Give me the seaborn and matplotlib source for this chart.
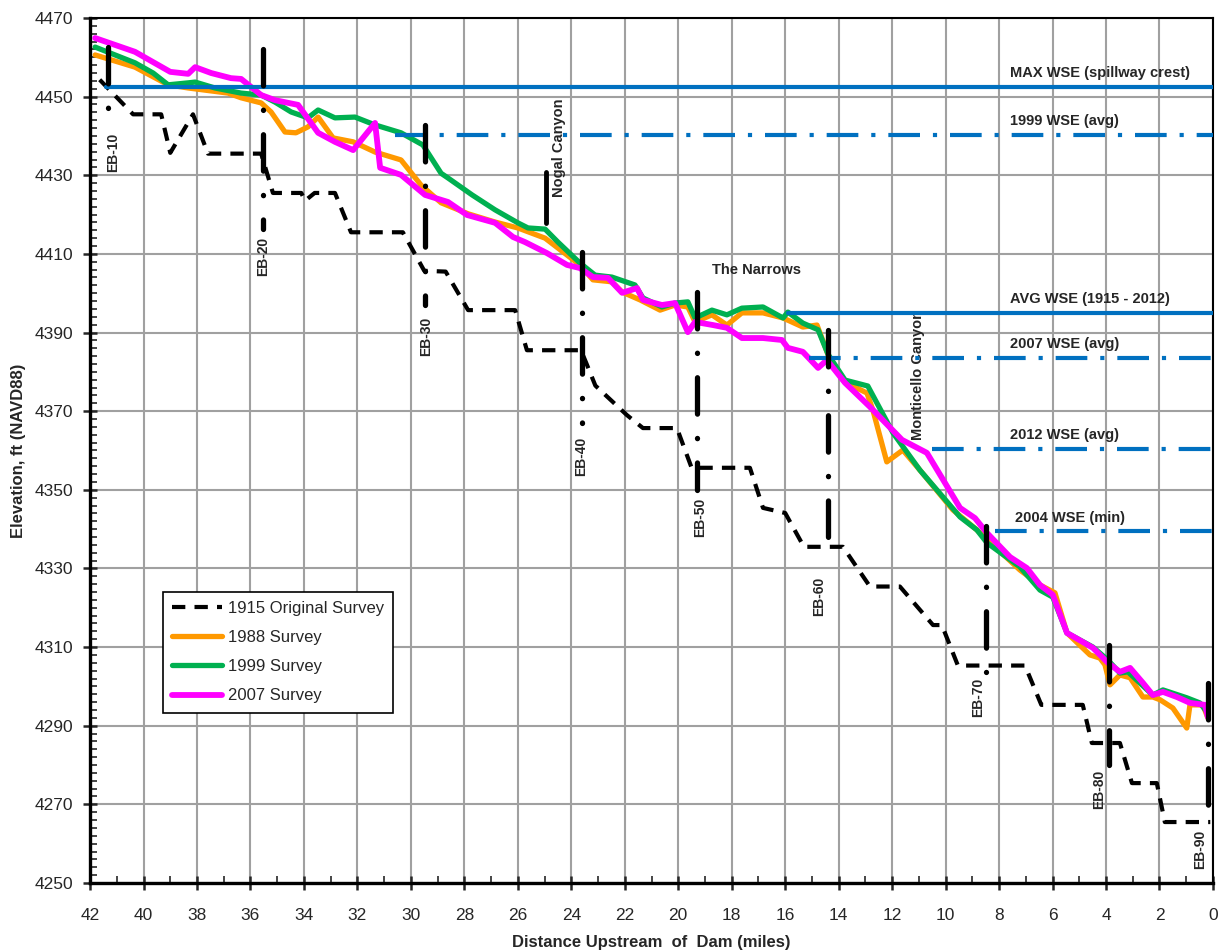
import matplotlib
matplotlib.use("Agg")
import matplotlib.pyplot as plt
from matplotlib.ticker import MultipleLocator
import seaborn as sns
import pandas as pd

# Survey profiles: distance upstream of dam (miles) and elevation (ft NAVD88)
x1915 = [41.64, 40.39, 39.34, 39.0, 38.15, 37.59, 35.6, 35.16, 34.1, 33.96, 33.6, 32.84, 32.24,
         30.3, 29.5, 28.7, 27.86, 26.1, 25.66, 23.64, 23.45, 23.1, 21.92, 21.32, 20.05, 19.5,
         17.32, 16.83, 16.0, 15.3, 13.84, 12.83, 11.71, 10.47, 10.14, 9.54, 7.03, 6.42, 4.87,
         4.53, 3.48, 3.03, 2.10, 1.8, 0.1]
y1915 = [4454.3, 4445.5, 4445.5, 4435.7, 4445.5, 4435.5, 4435.5, 4425.5, 4425.5, 4423.5, 4425.5,
         4425.5, 4415.5, 4415.5, 4405.7, 4405.5, 4395.7, 4395.7, 4385.5, 4385.5, 4382.4, 4376.5,
         4369.0, 4365.7, 4365.7, 4355.6, 4355.6, 4345.4, 4344.1, 4335.5, 4335.5, 4325.4, 4325.4,
         4315.6, 4315.6, 4305.3, 4305.3, 4295.3, 4295.3, 4285.6, 4285.6, 4275.4, 4275.4, 4265.5,
         4265.5]

x1988 = [41.81, 40.32, 39.08, 38.33, 36.84, 36.35, 35.6, 35.23, 34.71, 34.3, 33.85, 33.47, 32.91,
         32.16, 31.34, 30.37, 29.62, 28.87, 27.86, 26.85, 26.0, 24.98, 23.68, 23.19, 22.48, 22.1,
         21.43, 20.68, 20.12, 19.64, 19.37, 18.74, 18.18, 17.62, 16.83, 16.08, 15.34, 14.81, 14.5,
         14.3, 13.76, 12.94, 12.72, 12.2, 11.6, 10.96, 9.73, 8.83, 7.22, 6.47, 5.91, 5.46, 4.6,
         4.23, 4.04, 3.85, 3.48, 3.1, 2.62, 2.25, 1.98, 1.5, 0.98, 0.86, 0.38, 0.19]
y1988 = [4460.6, 4457.5, 4453.0, 4452.2, 4450.9, 4449.7, 4448.4, 4446.1, 4441.0, 4440.8, 4442.3,
         4444.8, 4439.5, 4438.5, 4435.9, 4433.9, 4427.5, 4423.0, 4420.2, 4418.1, 4416.6, 4414.0,
         4407.2, 4403.4, 4402.9, 4400.3, 4398.3, 4395.7, 4397.0, 4396.5, 4392.7, 4394.5, 4391.9,
         4395.0, 4395.0, 4393.7, 4391.4, 4391.9, 4386.3, 4382.5, 4377.4, 4374.6, 4370.3, 4357.1,
         4360.1, 4355.0, 4344.9, 4339.8, 4329.6, 4325.8, 4323.8, 4313.6, 4308.0, 4307.2, 4305.5,
         4300.4, 4302.9, 4302.2, 4297.3, 4297.3, 4296.6, 4294.5, 4289.4, 4295.3, 4295.3, 4292.0]

x1999 = [41.81, 40.32, 39.64, 39.08, 38.33, 38.07, 37.33, 36.35, 35.6, 35.08, 34.48, 33.85, 33.47,
         32.84, 32.09, 31.34, 30.37, 29.55, 28.87, 28.61, 27.71, 26.85, 26.0, 25.62, 24.98, 24.5,
         23.68, 23.11, 22.48, 21.62, 21.32, 20.61, 20.12, 19.64, 19.37, 18.74, 18.18, 17.62, 16.83,
         16.08, 15.9, 15.34, 14.77, 14.4, 13.76, 12.91, 11.97, 10.96, 9.46, 8.83, 8.45, 7.22, 6.47,
         5.99, 5.46, 4.49, 3.93, 3.48, 3.18, 2.25, 1.87, 0.98, 0.49, 0.19]
y1999 = [4462.6, 4458.6, 4456.0, 4453.0, 4453.5, 4453.7, 4452.2, 4450.9, 4450.4, 4448.6, 4446.1,
         4444.6, 4446.6, 4444.6, 4444.8, 4442.8, 4440.8, 4437.7, 4430.5, 4429.3, 4425.0, 4421.2,
         4417.9, 4416.6, 4416.3, 4413.0, 4407.7, 4404.6, 4404.1, 4402.1, 4398.8, 4396.5, 4397.5,
         4397.8, 4393.7, 4395.7, 4394.5, 4396.2, 4396.5, 4393.7, 4395.2, 4392.4, 4390.7, 4384.5,
         4377.9, 4376.4, 4364.5, 4355.0, 4343.1, 4339.8, 4336.5, 4330.4, 4324.5, 4322.7, 4313.6,
         4310.0, 4306.7, 4303.4, 4303.7, 4297.8, 4299.1, 4297.1, 4295.8, 4293.2]

x2007 = [41.81, 40.32, 39.0, 38.33, 38.07, 37.47, 36.73, 36.35, 35.6, 35.08, 34.22, 33.47, 32.84,
         32.16, 31.34, 31.15, 30.37, 29.47, 28.61, 27.9, 26.85, 26.18, 25.73, 24.91, 24.16, 23.68,
         23.19, 22.63, 22.1, 21.54, 21.32, 20.61, 20.12, 19.64, 19.37, 18.7, 18.18, 17.62, 16.83,
         16.12, 15.9, 15.34, 14.77, 14.44, 13.76, 12.83, 11.63, 10.7, 9.46, 8.9, 8.45, 7.59, 6.96,
         6.47, 5.99, 5.46, 4.87, 4.49, 3.93, 3.48, 3.1, 2.62, 2.25, 1.87, 1.35, 0.86, 0.3, 0.19]
y2007 = [4464.9, 4461.4, 4456.3, 4455.8, 4457.5, 4456.0, 4454.7, 4454.5, 4450.4, 4449.1, 4447.9,
         4440.8, 4438.5, 4436.4, 4443.3, 4431.9, 4430.1, 4425.0, 4423.2, 4419.9, 4417.9, 4414.3,
         4413.0, 4410.2, 4407.2, 4406.4, 4404.1, 4403.9, 4400.1, 4401.3, 4398.3, 4397.0, 4397.5,
         4390.1, 4392.7, 4391.9, 4391.2, 4388.6, 4388.6, 4388.1, 4386.1, 4385.1, 4381.0, 4383.0,
         4377.2, 4371.1, 4362.7, 4359.4, 4345.4, 4342.8, 4339.0, 4332.9, 4330.1, 4325.8, 4323.3,
         4313.6, 4311.3, 4309.8, 4306.0, 4303.7, 4304.7, 4300.9, 4297.8, 4298.6, 4297.3, 4295.8,
         4295.3, 4292.2]

# Water surface elevations
wse_names = ["MAX WSE (spillway crest)", "1999 WSE (avg)", "AVG WSE (1915 - 2012)",
             "2007 WSE (avg)", "2012 WSE (avg)", "2004 WSE (min)"]
wse_elev = [4452.5, 4440.2, 4395.0, 4383.6, 4360.4, 4339.4]
wse_start = [41.4, 30.6, 15.9, 15.1, 10.5, 8.15]
wse_solid = [True, False, True, False, False, False]
wse_label_x = [7.6, 7.6, 7.6, 7.6, 7.6, 7.4]

# Range lines (EB-xx)
eb_names = ["EB-10", "EB-20", "EB-30", "EB-40", "EB-50", "EB-60", "EB-70", "EB-80", "EB-90"]
eb_x = [41.33, 35.53, 29.47, 23.6, 19.3, 14.4, 8.5, 3.9, 0.2]
eb_top = [4462.6, 4462.0, 4442.8, 4410.5, 4400.3, 4390.7, 4340.8, 4310.5, 4300.9]
eb_bottom = [4441.5, 4416.3, 4397.0, 4367.0, 4350.0, 4332.7, 4303.7, 4280.0, 4264.5]
eb_label_x = [41.14, 35.53, 29.43, 23.64, 19.19, 14.74, 8.79, 4.27, 0.49]
eb_label_y = [4440.8, 4414.3, 4394.0, 4363.4, 4347.9, 4327.8, 4302.1, 4278.7, 4263.5]

sns.set_style("ticks")
plt.rcParams["font.family"] = ["Liberation Sans", "DejaVu Sans"]

fig, ax = plt.subplots(figsize=(12.22, 9.52), dpi=100)
fig.subplots_adjust(left=0.0737, right=0.9926, top=0.9811, bottom=0.0725)

surveys = [
    ("1915 Original Survey", x1915, y1915, "black", 3.0, (0, (3.2, 2.2))),
    ("1988 Survey", x1988, y1988, "#FF9900", 3.8, "-"),
    ("1999 Survey", x1999, y1999, "#00B050", 3.8, "-"),
    ("2007 Survey", x2007, y2007, "#FF00FF", 4.2, "-"),
]
for name, xs, ys, col, lw, ls in surveys:
    df = pd.DataFrame({"dist": xs, "elev": ys})
    sns.lineplot(data=df, x="dist", y="elev", ax=ax, color=col, lw=lw, linestyle=ls,
                 estimator=None, sort=False, label=name, zorder=3)

# water surface lines
for name, elev, start, solid, lx in zip(wse_names, wse_elev, wse_start, wse_solid, wse_label_x):
    ls = "-" if solid else (0, (7.6, 3.1, 1.0, 3.1))
    ax.plot([start, 0], [elev, elev], color="#0070C0", lw=3.0, linestyle=ls, zorder=4)
    ax.annotate(name, (lx, elev), xytext=(0, 5), textcoords="offset points",
                fontsize=10.5, fontweight="bold", ha="left", va="bottom", zorder=6)

# range lines
for name, x, top, bot, lx, ly in zip(eb_names, eb_x, eb_top, eb_bottom, eb_label_x, eb_label_y):
    ax.plot([x, x], [top, bot], color="black", lw=3.8, linestyle=(0, (6.9, 4.6, 0.05, 4.6)),
            dash_capstyle="round", zorder=5)
    ax.text(lx, ly, name, rotation=90, ha="center", va="top", fontsize=10,
            fontweight="bold", zorder=6)

# landmarks
ax.plot([24.95, 24.95], [4430.8, 4417.9], color="black", lw=3.5, zorder=5)
ax.text(24.46, 4424.5, "Nogal Canyon", rotation=90, ha="center", va="bottom",
        fontsize=10.5, fontweight="bold")
ax.text(11.03, 4362.7, "Monticello Canyon", rotation=90, ha="center", va="bottom",
        fontsize=10.5, fontweight="bold")
ax.text(18.74, 4405.9, "The Narrows", ha="left", va="center", fontsize=10.5, fontweight="bold")

ax.set_xlim(42, 0)
ax.set_ylim(4250, 4470)
ax.xaxis.set_major_locator(MultipleLocator(2))
ax.xaxis.set_minor_locator(MultipleLocator(1))
ax.yaxis.set_major_locator(MultipleLocator(20))
ax.yaxis.set_minor_locator(MultipleLocator(2))
ax.set_yticks(range(4250, 4471, 20))

ax.grid(True, which="major", color="#a0a0a0", lw=1.5)
ax.set_axisbelow(True)
ax.tick_params(which="major", direction="inout", length=10, width=1.8, labelsize=12.5,
               bottom=True, left=True, top=False, right=False)
ax.tick_params(axis="x", which="major", pad=13)
ax.tick_params(axis="y", which="major", pad=7)
ax.tick_params(which="minor", direction="in", length=5, width=1.2,
               bottom=True, left=True, top=False, right=False)
for side in ["left", "bottom"]:
    ax.spines[side].set_linewidth(2.4)
for side in ["top", "right"]:
    ax.spines[side].set_linewidth(1.5)
for sp in ax.spines.values():
    sp.set_color("black")

ax.set_xlabel("Distance Upstream  of  Dam (miles)", fontsize=12, fontweight="bold", labelpad=9)
ax.set_ylabel("Elevation, ft (NAVD88)", fontsize=12, fontweight="bold", labelpad=6)

leg = ax.legend(loc="lower left", bbox_to_anchor=(0.065, 0.197), fontsize=12, frameon=True,
                fancybox=False, framealpha=1, edgecolor="black", handlelength=3.0,
                handletextpad=0.35, labelspacing=0.85, borderpad=0.55, borderaxespad=0)
leg.get_frame().set_linewidth(1.2)

fig.savefig("out.png", dpi=100)
